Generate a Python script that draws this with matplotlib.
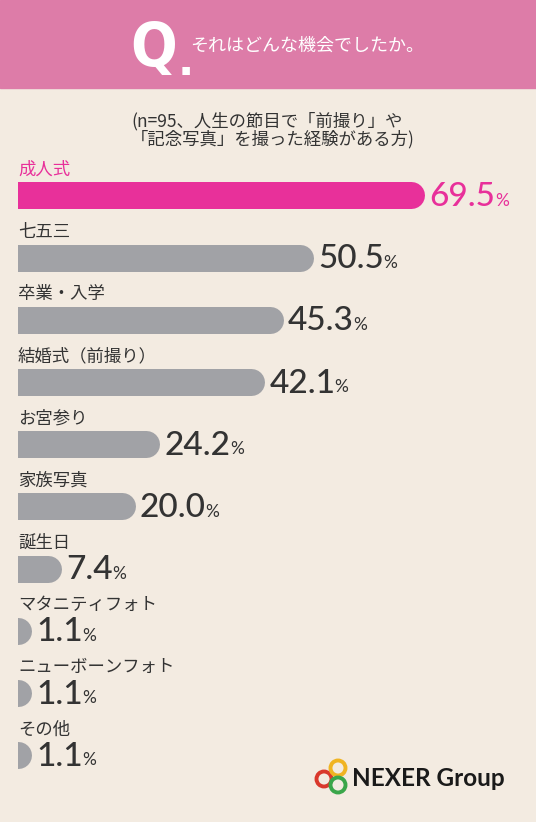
import matplotlib
matplotlib.use('Agg')
import matplotlib.pyplot as plt
from matplotlib.patches import Rectangle, Ellipse

plt.rcParams['font.family'] = ['Noto Sans CJK JP', 'DejaVu Sans']

# data
categories = ['成人式', '七五三', '卒業・入学', '結婚式（前撮り）', 'お宮参り',
              '家族写真', '誕生日', 'マタニティフォト', 'ニューボーンフォト', 'その他']
values = [69.5, 50.5, 45.3, 42.1, 24.2, 20.0, 7.4, 1.1, 1.1, 1.1]
title = 'それはどんな機会でしたか。'
subtitle = '(n=95、人生の節目で「前撮り」や\n「記念写真」を撮った経験がある方)'

W, H = 536, 822
bg = '#f3ebe1'
header = '#dd7ca8'
pink = '#e8309a'
gray = '#a1a2a6'
dark = '#333333'
numfont = 'Lato'

fig = plt.figure(figsize=(W / 100, H / 100), dpi=100, facecolor=bg)

def fy(py):
    return 1 - py / H

# header band
fig.patches.append(Rectangle((0, fy(88)), 1, 88 / H, transform=fig.transFigure,
                             color=header, zorder=0))
fig.text(130 / W, fy(66), r'Q$_{\mathbf{.}}$', color='white', fontsize=44,
         fontweight='bold', family='DejaVu Sans', fontstretch='condensed',
         va='baseline', ha='left')
fig.text(190 / W, fy(46), title, color='white', fontsize=13, va='center', ha='left')
fig.text(131 / W, fy(130), subtitle, color=dark, fontsize=12.5, va='center', ha='left',
         linespacing=1.0)

# bars
top, bottom = 164.4, 786.4
ax = fig.add_axes([18 / W, 1 - bottom / H, (W - 18) / W, (bottom - top) / H])
ax.set_facecolor('none')
ax.set_xlim(0, 88.5)
ax.set_ylim(len(values) - 0.5, -0.5)
ax.axis('off')

bar_px = 27
k = (W - 18) / 88.5          # pixels per percent
r = bar_px / 2 / k           # cap radius in data units
lw = bar_px * 72 / 100

for i, (cat, v) in enumerate(zip(categories, values)):
    c = pink if i == 0 else gray
    tc = pink if i == 0 else dark
    ax.plot([-r, max(v - r, 0)], [i, i], color=c, lw=lw, solid_capstyle='round',
            clip_on=True)
    ax.annotate(cat, (0, i), xytext=(0, 15), textcoords='offset points',
                color=tc, fontsize=12.5, ha='left', va='baseline')
    num = ax.annotate(f'{v:.1f}', (max(v, r), i), xytext=(3.5, -7.5),
                      textcoords='offset points', color=tc, fontsize=24,
                      family=numfont, fontweight='medium', ha='left', va='baseline')
    ax.annotate('%', (1, 0), xycoords=num, xytext=(-0.5, 2.4), textcoords='offset points',
                color=tc, fontsize=12.5, family=numfont, ha='left', va='bottom')

# logo
rings = [(324, 779, '#d9382c'), (338, 768, '#f0b422'), (338, 785, '#3aa64a')]
for cx, cy, col in rings:
    fig.patches.append(Ellipse((cx / W, fy(cy)), 15 / W, 15 / H, transform=fig.transFigure,
                               fill=False, ec=col, lw=2.8))
fig.text(352 / W, fy(778), 'NEXER Group', color='#1a1a1a', fontsize=17.5,
         fontweight='bold', family=numfont, va='center', ha='left')

fig.savefig('out.png', dpi=100, facecolor=bg)
